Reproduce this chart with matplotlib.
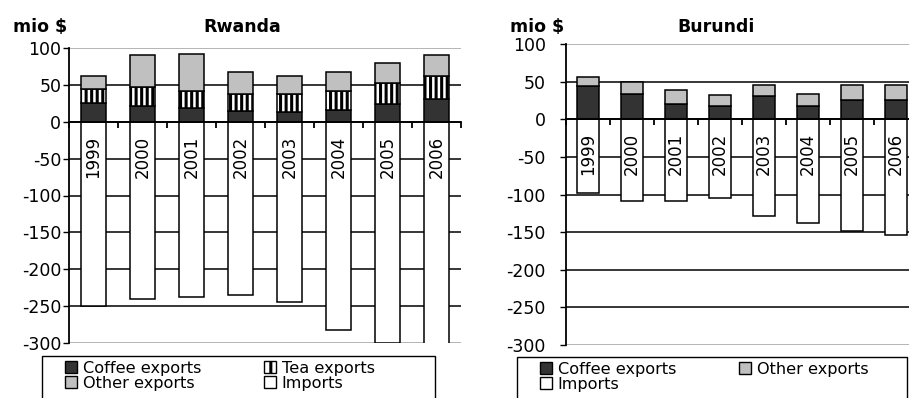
import numpy as np
import matplotlib
matplotlib.use('Agg')
import matplotlib.pyplot as plt
from matplotlib.patches import Patch, Rectangle

years = ['1999', '2000', '2001', '2002', '2003', '2004', '2005', '2006']

rw_coffee = [25, 21, 19, 14, 13, 16, 24, 31]
rw_tea = [20, 26, 23, 23, 24, 26, 28, 31]
rw_other = [17, 43, 50, 30, 25, 25, 28, 28]
rw_imports = [-250, -240, -237, -235, -245, -283, -300, -330]

bu_coffee = [44, 34, 20, 17, 31, 17, 26, 26]
bu_other = [12, 15, 19, 15, 15, 17, 20, 20]
bu_imports = [-98, -108, -108, -105, -128, -138, -148, -154]

yticks = [100, 50, 0, -50, -100, -150, -200, -250, -300]

W, H = 909, 398
DARK = '#333333'
LIGHT = '#c0c0c0'
GRAY_BORDER = '#a0a0a0'

plt.rcParams['font.family'] = ['DejaVu Sans']
plt.rcParams['hatch.linewidth'] = 2.2
plt.rcParams['hatch.color'] = 'black'


def px_axes(fig, left, top, right, bottom):
    return fig.add_axes([left / W, 1 - bottom / H, (right - left) / W, (bottom - top) / H])


def style_axes(ax, label_pad):
    x = np.arange(len(years))
    ax.set_xlim(-0.5, len(years) - 0.5)
    ax.set_ylim(-300, 100)
    ax.set_yticks(yticks)
    ax.set_yticklabels([str(v) for v in yticks])
    ax.tick_params(axis='y', direction='out', length=4.5, width=1, pad=label_pad,
                   labelsize=12.5, colors='black')
    ax.set_axisbelow(True)
    ax.yaxis.grid(True, color='black', lw=1.1)
    for val, line in zip(ax.get_yticks(), ax.yaxis.get_gridlines()):
        if val in (100, -300):
            line.set_color(GRAY_BORDER)
    # category axis crosses at zero, ticks between categories
    ax.spines['bottom'].set_position(('data', 0))
    ax.spines['bottom'].set_linewidth(1.3)
    ax.spines['left'].set_linewidth(1.3)
    ax.spines['top'].set_visible(False)
    ax.spines['right'].set_visible(False)
    ax.set_xticks(np.arange(len(years) + 1) - 0.5)
    ax.set_xticklabels([])
    ax.tick_params(axis='x', direction='out', length=4, width=1.3)
    for i, yr in enumerate(years):
        ax.annotate(yr, xy=(x[i], 0), xytext=(0, -10), textcoords='offset points',
                    rotation=90, ha='center', va='top', fontsize=12, zorder=5)


def legend_box(fig, handles, labels, frame, handle_x, top):
    x0, y0, x1, y1 = frame
    fig.patches.append(Rectangle((x0 / W, 1 - y1 / H), (x1 - x0) / W, (y1 - y0) / H,
                                 transform=fig.transFigure, facecolor='white',
                                 edgecolor='black', lw=1))
    fig.legend(handles, labels, loc='upper left', bbox_to_anchor=(handle_x / W, 1 - top / H),
               ncol=2, frameon=False, fontsize=11.6, borderpad=0, borderaxespad=0,
               handlelength=0.75, handleheight=0.75, handletextpad=0.35,
               labelspacing=0.0, columnspacing=3.9)


def main():
    fig = plt.figure(figsize=(W / 100, H / 100), dpi=100)
    fig.patch.set_facecolor('white')
    x = np.arange(len(years))
    bar_kw = dict(edgecolor='black', linewidth=1.1)

    # Rwanda
    ax1 = px_axes(fig, 69, 48, 461, 343)
    b_rw = np.array(rw_coffee) + np.array(rw_tea)
    ax1.bar(x, rw_imports, 0.53, color='white', **bar_kw)
    ax1.bar(x, rw_coffee, 0.53, color=DARK, **bar_kw)
    ax1.bar(x, rw_tea, 0.53, bottom=rw_coffee, color='white', hatch='|||', **bar_kw)
    ax1.bar(x, rw_other, 0.53, bottom=b_rw, color=LIGHT, **bar_kw)
    style_axes(ax1, 1)
    fig.text(13 / W, 1 - 27 / H, 'mio $', fontsize=12.5, fontweight='bold', va='center', ha='left')
    fig.text(242 / W, 1 - 27 / H, 'Rwanda', fontsize=12.5, fontweight='bold', va='center', ha='center')

    # Burundi
    ax2 = px_axes(fig, 566, 44, 918, 345)
    ax2.bar(x, bu_imports, 0.5, color='white', **bar_kw)
    ax2.bar(x, bu_coffee, 0.5, color=DARK, **bar_kw)
    ax2.bar(x, bu_other, 0.5, bottom=bu_coffee, color=LIGHT, **bar_kw)
    style_axes(ax2, 10)
    fig.text(510 / W, 1 - 27 / H, 'mio $', fontsize=12.5, fontweight='bold', va='center', ha='left')
    fig.text(716 / W, 1 - 27 / H, 'Burundi', fontsize=12.5, fontweight='bold', va='center', ha='center')

    h_coffee = Patch(facecolor=DARK, edgecolor='black', lw=1)
    h_tea = Patch(facecolor='white', edgecolor='black', lw=1, hatch='||')
    h_other = Patch(facecolor=LIGHT, edgecolor='black', lw=1)
    h_imp = Patch(facecolor='white', edgecolor='black', lw=1)

    legend_box(fig, [h_coffee, h_other, h_tea, h_imp],
               ['Coffee exports', 'Other exports', 'Tea exports', 'Imports'],
               (42, 356, 435, 402), 65, 361)
    legend_box(fig, [h_coffee, h_imp, h_other],
               ['Coffee exports', 'Imports', 'Other exports'],
               (517, 357, 907, 402), 540, 362)

    fig.savefig('out.png', dpi=100, facecolor='white')


if __name__ == "__main__":
    main()
